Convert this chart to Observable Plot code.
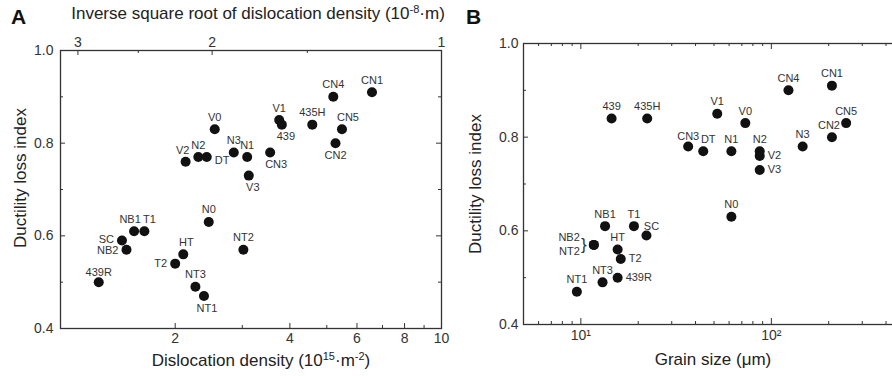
<!DOCTYPE html>
<html><head><meta charset="utf-8">
<script src="https://cdn.jsdelivr.net/npm/d3@7"></script>
<script src="https://cdn.jsdelivr.net/npm/@observablehq/plot@0.6"></script>
<style>
html,body{margin:0;padding:0;background:#fff;overflow:hidden;}
#wrap{position:relative;width:892px;height:376px;overflow:hidden;font-family:"Liberation Sans",Arial,sans-serif;color:#222;}
.abs{position:absolute;white-space:nowrap;line-height:18px;}
.title{font-size:17px;color:#222;}
.panel{font-size:21px;font-weight:bold;color:#111;}
sup{font-size:11px;vertical-align:6px;line-height:0;}
.rot{transform:translate(-50%,-50%) rotate(-90deg);}
.ctr{transform:translate(-50%,-50%);}
svg{position:absolute;top:0;overflow:visible;}
</style></head><body><div id="wrap"></div>
<script>
// ---- data ----
const samples = ["CN1","CN4","V1","439","435H","CN5","V0","CN2","V2","N2","DT","N3","N1","V3","CN3","N0","NB1","T1","SC","NB2","NT2","HT","T2","439R","NT3","NT1"];
const ductilityLoss = [0.91,0.90,0.85,0.84,0.84,0.83,0.83,0.80,0.76,0.77,0.77,0.78,0.77,0.73,0.78,0.63,0.61,0.61,0.59,0.57,0.57,0.56,0.54,0.50,0.49,0.47];
const dislocationDensity = [6.57,5.20,3.75,3.81,4.58,5.48,2.54,5.27,2.13,2.30,2.42,2.85,3.09,3.12,3.55,2.45,1.56,1.66,1.45,1.49,3.02,2.10,2.00,1.26,2.26,2.38];
const grainSize = [208,123,52,14.5,22.3,247,73,208,86.9,86.9,43.9,146,61.7,86.9,36.6,61.7,13.4,19.0,22.1,11.7,11.7,15.6,16.2,15.6,13.0,9.53];

const yMajor = [0.4,0.6,0.8,1.0];
const yMinor = [0.5,0.7,0.9];
const rhoMajor = [2,4,6,8,10];
const rhoMinor = [3,5,7,9];
const invSqrtMajor = [3,2,1];
const invSqrtMinor = [2.5,1.5];
const grainMajor = [10,100];
const grainMinor = [6,7,8,9,20,30,40,50,60,70,80,90,200,300,400];
const grainTickLabels = {10:"10\u00b9",100:"10\u00b2"};

// label placement (styling)
const placeA = {CN1:"top",CN4:"top",V1:"top","439":"bottom","435H":"top",CN5:"top",V0:"top",CN2:"bottom",V2:"top",N2:"top",DT:"right",N3:"top",N1:"top",V3:"bottom",CN3:"bottom",N0:"top",NB1:"top",T1:"top",SC:"left",NB2:"left",NT2:"top",HT:"top",T2:"left","439R":"top",NT3:"top",NT1:"bottom"};
const nudgeA = {"439":[4,0],CN5:[6,0],V2:[-3,1],NB1:[-4,0],T1:[5,0],HT:[3,0],V3:[4,0],CN3:[6,0],NT1:[3,0],DT:[0,3],"439R":[0,2],SC:[0,-1],NB2:[0,1]};
const placeB = {CN1:"top",CN4:"top",V1:"top","439":"top","435H":"top",CN5:"top",V0:"top",CN2:"top",V2:"right",N2:"top",DT:"top",N3:"top",N1:"top",V3:"right",CN3:"top",N0:"top",NB1:"top",T1:"top",SC:"top",NB2:"bracketUp",NT2:"bracketDown",HT:"top",T2:"right","439R":"right",NT3:"top",NT1:"top"};
const nudgeB = {CN2:[-3,0],DT:[5,0],SC:[5,3],CN3:[0,2]};

const rows = samples.map((s,i)=>({name:s, dli:ductilityLoss[i], rho:dislocationDensity[i], grain:grainSize[i]}));

const base = {top:{dx:0,dy:-12,a:"middle"},bottom:{dx:0,dy:12,a:"middle"},left:{dx:-8,dy:0,a:"end"},right:{dx:8,dy:0,a:"start"},
  bracketUp:{dx:-14,dy:-7,a:"end"},bracketDown:{dx:-14,dy:7,a:"end"}};

function labelMarks(xKey, place, nudge){
  return rows.map(r=>{
    const b = base[place[r.name]];
    const n = nudge[r.name] || [0,0];
    return Plot.text([r],{x:xKey,y:"dli",text:"name",dx:b.dx+n[0],dy:b.dy+n[1],textAnchor:b.a,fontSize:11,fill:"#333"});
  });
}

const FONT = '"Liberation Sans", Arial, sans-serif';
const C = 1e8/Math.sqrt(1e15); // rho(1e15 m^-2) -> 1/sqrt(rho) in 1e-8 m
const invToRho = v => (C/v)*(C/v);
const tickCol = "#333";

// ---- Panel A ----
const WA=446, HA=376, mlA=60, mrA=5, mtA=50, mbA=48;
const pwA = WA-mlA-mrA, phA = HA-mtA-mbA;
const plotA = Plot.plot({
  width:WA, height:HA, marginLeft:mlA, marginRight:mrA, marginTop:mtA, marginBottom:mbA,
  style:{fontFamily:FONT, fontSize:"14px", color:"#333", background:"transparent"},
  x:{type:"log", domain:[1,10]},
  y:{domain:[0.4,1.0]},
  marks:[
    Plot.frame({stroke:"#333", strokeWidth:1.3}),
    Plot.ruleX(rhoMajor,{x:d=>d, insetTop:phA-5, stroke:tickCol}),
    Plot.ruleX(rhoMinor,{x:d=>d, insetTop:phA-3, stroke:tickCol}),
    Plot.ruleX(invSqrtMajor.map(invToRho),{x:d=>d, insetBottom:phA-5, stroke:tickCol}),
    Plot.ruleX(invSqrtMinor.map(invToRho),{x:d=>d, insetBottom:phA-3, stroke:tickCol}),
    Plot.ruleY(yMajor,{y:d=>d, insetRight:pwA-5, stroke:tickCol}),
    Plot.ruleY(yMinor,{y:d=>d, insetRight:pwA-3, stroke:tickCol}),
    Plot.ruleY(yMajor,{y:d=>d, insetLeft:pwA-5, stroke:tickCol}),
    Plot.ruleY(yMinor,{y:d=>d, insetLeft:pwA-3, stroke:tickCol}),
    Plot.axisX({ticks:rhoMajor, tickSize:0, tickPadding:5, tickFormat:d=>String(d), label:null, fontSize:14}),
    Plot.axisX({anchor:"top", ticks:invSqrtMajor.map(invToRho), tickSize:0, tickPadding:4, tickFormat:d=>String(Math.round(C/Math.sqrt(d))), label:null, fontSize:14}),
    Plot.axisY({ticks:yMajor, tickSize:0, tickPadding:7, tickFormat:d3.format(".1f"), label:null, fontSize:14}),
    Plot.dot(rows,{x:"rho", y:"dli", r:5, fill:"#111", stroke:null}),
    ...labelMarks("rho", placeA, nudgeA)
  ]
});

// ---- Panel B ----
const WB=470, HB=376, mlB=83, mrB=6, mtB=43, mbB=52;
const pwB = WB-mlB-mrB, phB = HB-mtB-mbB;
const bracketRow = rows.filter(r=>r.name==="NB2");
const plotB = Plot.plot({
  width:WB, height:HB, marginLeft:mlB, marginRight:mrB, marginTop:mtB, marginBottom:mbB,
  style:{fontFamily:FONT, fontSize:"14px", color:"#333", background:"transparent"},
  x:{type:"log", domain:[5,500]},
  y:{domain:[0.4,1.0]},
  marks:[
    Plot.frame({stroke:"#333", strokeWidth:1.3}),
    Plot.ruleX(grainMajor,{x:d=>d, insetTop:phB-6, stroke:tickCol}),
    Plot.ruleX(grainMinor,{x:d=>d, insetTop:phB-3, stroke:tickCol}),
    Plot.ruleX(grainMajor,{x:d=>d, insetBottom:phB-6, stroke:tickCol}),
    Plot.ruleX(grainMinor,{x:d=>d, insetBottom:phB-3, stroke:tickCol}),
    Plot.ruleY(yMajor,{y:d=>d, insetRight:pwB-5, stroke:tickCol}),
    Plot.ruleY(yMinor,{y:d=>d, insetRight:pwB-3, stroke:tickCol}),
    Plot.axisX({ticks:grainMajor, tickSize:0, tickPadding:6, tickFormat:d=>grainTickLabels[d], label:null, fontSize:14}),
    Plot.axisY({ticks:yMajor, tickSize:0, tickPadding:5, tickFormat:d3.format(".1f"), label:null, fontSize:14}),
    Plot.dot(rows,{x:"grain", y:"dli", r:5, fill:"#111", stroke:null}),
    Plot.text(bracketRow,{x:"grain", y:"dli", text:()=>"}", dx:-10, dy:0, fontSize:17, fill:"#333", textAnchor:"middle"}),
    ...labelMarks("grain", placeB, nudgeB)
  ]
});

const wrap = document.getElementById("wrap");
plotA.style.left = "0px";
plotB.style.left = "440px";
wrap.appendChild(plotA);
wrap.appendChild(plotB);

function addDiv(html, cls, left, top){
  const d = document.createElement("div");
  d.className = "abs " + cls;
  d.innerHTML = html;
  d.style.left = left+"px"; d.style.top = top+"px";
  wrap.appendChild(d);
}
addDiv("A","panel",11,8);
addDiv("B","panel",466,8);
addDiv("Inverse square root of dislocation density (10<sup>-8</sup>·m)","title ctr",258,14);
addDiv("Dislocation density (10<sup>15</sup>·m<sup>-2</sup>)","title ctr",261,361);
addDiv("Grain size (μm)","title ctr",713,360);
addDiv("Ductility loss index","title rot",21,178);
addDiv("Ductility loss index","title rot",476,184);
</script>
</body></html>
